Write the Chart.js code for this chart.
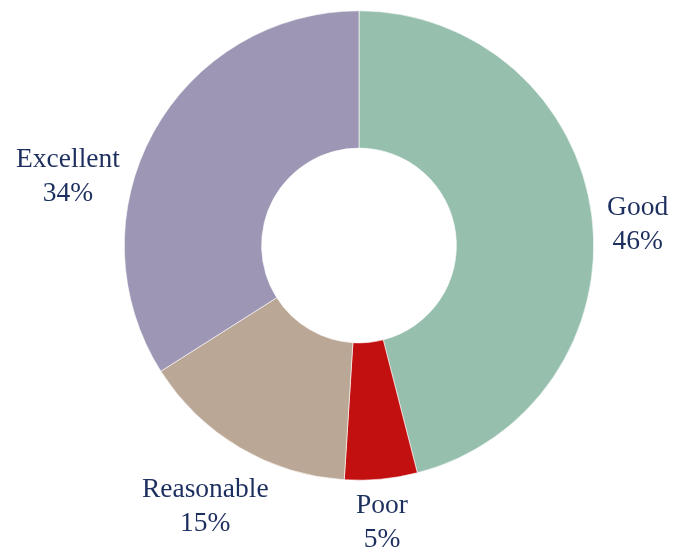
<!DOCTYPE html>
<html>
<head>
<meta charset="utf-8">
<script src="https://cdn.jsdelivr.net/npm/chart.js@4/dist/chart.umd.min.js"></script>
<style>
html,body{margin:0;padding:0;background:#fff;}
#wrap{width:674px;height:552px;position:relative;}
</style>
</head>
<body>
<div id="wrap"><canvas id="c"></canvas></div>
<script>
const categories = ["Good", "Poor", "Reasonable", "Excellent"];
const values = [46, 5, 15, 34];
const percentLabels = ["46%", "5%", "15%", "34%"];
const colors = ["#96bfad", "#c20f0f", "#bba795", "#9d96b5"];

// label anchor (first baseline) relative to doughnut centre, in units of outer radius
const labelOffsets = [
  {dx: 1.187, dy: -0.128},
  {dx: 0.098, dy: 1.140},
  {dx: -0.655, dy: 1.072},
  {dx: -1.240, dy: -0.336}
];

const labelPlugin = {
  id: 'outerLabels',
  afterDatasetsDraw(chart) {
    const meta = chart.getDatasetMeta(0);
    const ctx = chart.ctx;
    ctx.save();
    ctx.font = '27.5px "Liberation Serif", "Times New Roman", serif';
    ctx.fillStyle = '#1d2f5f';
    ctx.textAlign = 'center';
    ctx.textBaseline = 'alphabetic';
    meta.data.forEach((arc, i) => {
      const p = arc.getProps(['x', 'y', 'outerRadius'], true);
      const o = labelOffsets[i];
      const x = p.x + o.dx * p.outerRadius;
      const y = p.y + o.dy * p.outerRadius;
      ctx.fillText(categories[i], x, y);
      ctx.fillText(percentLabels[i], x, y + 34);
    });
    ctx.restore();
  }
};

new Chart(document.getElementById('c'), {
  type: 'doughnut',
  data: {
    labels: categories,
    datasets: [{
      data: values,
      backgroundColor: colors,
      borderColor: '#ffffff',
      borderWidth: 0.6,
      hoverOffset: 0
    }]
  },
  options: {
    responsive: true,
    maintainAspectRatio: false,
    animation: false,
    cutout: '41.5%',
    layout: {padding: {left: 124, right: 80, top: 10, bottom: 71}},
    plugins: {
      legend: {display: false},
      tooltip: {enabled: false}
    }
  },
  plugins: [labelPlugin]
});
</script>
</body>
</html>
